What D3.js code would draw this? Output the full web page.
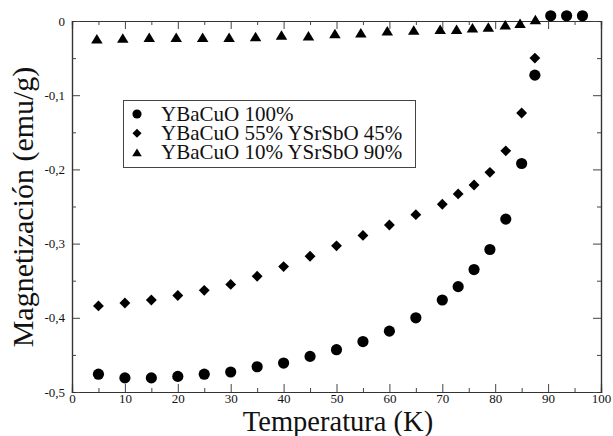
<!DOCTYPE html>
<html>
<head>
<meta charset="utf-8">
<script src="https://cdn.jsdelivr.net/npm/d3@7"></script>
<style>
  body { margin: 0; background: #fff; }
  text { font-family: "Liberation Serif", "Times New Roman", serif; fill: #111; }
</style>
</head>
<body>
<svg id="chart" width="613" height="436"></svg>
<script>
// datos
const tempA = [5,10,15,20,25,30,35,40,45,50,55,60,65,70,73,76,79,82,85,87.5,90.5,93.5,96.5];
const magA  = [-0.476,-0.481,-0.481,-0.479,-0.476,-0.473,-0.466,-0.461,-0.452,-0.443,-0.432,-0.418,-0.400,-0.376,-0.358,-0.335,-0.308,-0.267,-0.192,-0.073,0.007,0.007,0.007];

const tempB = [5,10,15,20,25,30,35,40,45,50,55,60,65,70,73,76,79,82,85,87.5];
const magB  = [-0.384,-0.380,-0.376,-0.370,-0.363,-0.355,-0.344,-0.331,-0.317,-0.303,-0.289,-0.275,-0.261,-0.247,-0.233,-0.221,-0.204,-0.175,-0.124,-0.050];

const tempC = [4.7,9.6,14.6,19.7,24.7,29.7,34.7,39.6,44.7,49.7,54.6,59.6,64.6,69.6,72.7,75.7,78.7,81.9,84.7,87.6];
const magC  = [-0.024,-0.023,-0.022,-0.022,-0.022,-0.022,-0.021,-0.019,-0.020,-0.017,-0.016,-0.013,-0.012,-0.011,-0.011,-0.009,-0.008,-0.005,-0.003,0.002];

const seriesNames = ["YBaCuO 100%", "YBaCuO 55% YSrSbO 45%", "YBaCuO 10% YSrSbO 90%"];
const xTicks = [0,10,20,30,40,50,60,70,80,90,100];
const yTicks = [0,-0.1,-0.2,-0.3,-0.4,-0.5];

const svg = d3.select("#chart");
const x = d3.scaleLinear().domain([0, 100]).range([72, 601]);
const y = d3.scaleLinear().domain([-0.5, 0]).range([392, 21]);

// simbolos tipo xmgrace
const diamond = { draw(ctx, size) { const r = Math.sqrt(size) / 2 * 1.2;
  ctx.moveTo(0, -r); ctx.lineTo(r, 0); ctx.lineTo(0, r); ctx.lineTo(-r, 0); ctx.closePath(); } };
const triangle = { draw(ctx, size) { const r = Math.sqrt(size) / 2;
  ctx.moveTo(0, -r * 0.95); ctx.lineTo(r * 1.15, r * 0.95); ctx.lineTo(-r * 1.15, r * 0.95); ctx.closePath(); } };
const shapes = [d3.symbolCircle, diamond, triangle];
const sizes = [98, 82, 100];

const fmt = d => d === 0 ? "0" : d.toFixed(1).replace(".", ",");
const minorX = d3.range(5, 100, 10);
const minorY = [-0.05,-0.15,-0.25,-0.35,-0.45];

// ejes
const axisG = svg.append("g").attr("class", "axes");
axisG.append("g").attr("transform", "translate(0,392)")
  .call(d3.axisBottom(x).tickValues(xTicks).tickSize(-8).tickPadding(2).tickFormat(d3.format("d")));
axisG.append("g").attr("transform", "translate(0,392)")
  .call(d3.axisBottom(x).tickValues(minorX).tickSize(-4).tickFormat(""));
axisG.append("g").attr("transform", "translate(0,21)")
  .call(d3.axisTop(x).tickValues(xTicks).tickSize(-8).tickFormat(""));
axisG.append("g").attr("transform", "translate(0,21)")
  .call(d3.axisTop(x).tickValues(minorX).tickSize(-4).tickFormat(""));
axisG.append("g").attr("transform", "translate(72,0)")
  .call(d3.axisLeft(y).tickValues(yTicks).tickSize(-8).tickPadding(7).tickFormat(fmt));
axisG.append("g").attr("transform", "translate(72,0)")
  .call(d3.axisLeft(y).tickValues(minorY).tickSize(-4).tickFormat(""));
axisG.append("g").attr("transform", "translate(601,0)")
  .call(d3.axisRight(y).tickValues(yTicks).tickSize(-8).tickFormat(""));
axisG.append("g").attr("transform", "translate(601,0)")
  .call(d3.axisRight(y).tickValues(minorY).tickSize(-4).tickFormat(""));

axisG.selectAll(".domain").attr("stroke", "#333").attr("stroke-width", 1.2);
axisG.selectAll(".tick line").attr("stroke", "#444");
axisG.selectAll(".tick text")
  .style("font-family", "'Liberation Serif', serif").style("font-size", "13px").attr("fill", "#333");

// marcadores
const series = [
  { t: tempA, m: magA },
  { t: tempB, m: magB },
  { t: tempC, m: magC }
];
series.forEach((s, i) => {
  const pts = s.t.map((t, j) => ({ t: t, m: s.m[j] }));
  svg.append("g").selectAll("path")
    .data(pts)
    .enter().append("path")
    .attr("transform", d => `translate(${x(d.t)},${y(d.m)})`)
    .attr("d", d3.symbol().type(shapes[i]).size(sizes[i]))
    .attr("fill", "#000");
});

// leyenda
const leg = svg.append("g");
leg.append("rect")
  .attr("x", 123.5).attr("y", 100.5).attr("width", 292).attr("height", 67)
  .attr("fill", "#fff").attr("stroke", "#444").attr("stroke-width", 1);
const legSizes = [66, 58, 70];
seriesNames.forEach((name, i) => {
  const cy = 114 + i * 19.2;
  leg.append("path")
    .attr("transform", `translate(137,${cy})`)
    .attr("d", d3.symbol().type(shapes[i]).size(legSizes[i]))
    .attr("fill", "#000");
  leg.append("text")
    .attr("x", 161).attr("y", cy + 6.5)
    .style("font-size", "21px")
    .text(name);
});

// titulos de ejes
svg.append("text")
  .attr("x", 338).attr("y", 430.5)
  .attr("text-anchor", "middle")
  .style("font-size", "28.5px")
  .text("Temperatura (K)");
svg.append("text")
  .attr("transform", "translate(33,207) rotate(-90)")
  .attr("text-anchor", "middle")
  .style("font-size", "30px")
  .text("Magnetización (emu/g)");
</script>
</body>
</html>
